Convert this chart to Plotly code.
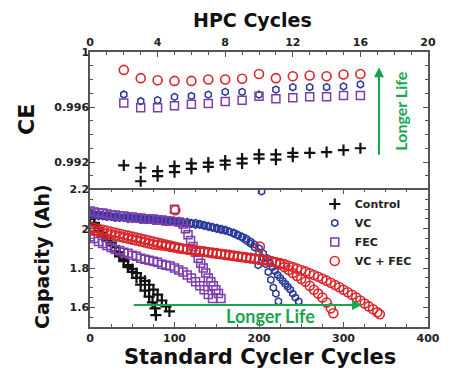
import plotly.graph_objects as go

# ---------------- CE panel (HPC cycles) ----------------
hpc = [2, 3, 4, 5, 6, 7, 8, 9, 10, 11, 12, 13, 14, 15, 16]
ce_vcfec = [0.9987, 0.9981, 0.99795, 0.9979, 0.9979, 0.998, 0.998, 0.99805, 0.9984, 0.9981, 0.99824, 0.99829, 0.99824, 0.99836, 0.9984]
ce_vc = [0.99691, 0.99642, 0.9965, 0.99674, 0.9968, 0.9969, 0.9971, 0.9971, 0.9969, 0.99727, 0.99744, 0.99744, 0.99744, 0.9975, 0.99764]
ce_fec = [0.9963, 0.99594, 0.99594, 0.9961, 0.9962, 0.99626, 0.9964, 0.9965, 0.99679, 0.9966, 0.99667, 0.99674, 0.99674, 0.99684, 0.99684]
ce_ctl1 = [0.99175, 0.99158, 0.99134, 0.9917, 0.9919, 0.99195, 0.9921, 0.99224, 0.99255, 0.99255, 0.99267, 0.99267, 0.99272, 0.99286, 0.993]
hpc_ctl2 = [3, 4, 5, 6, 7, 8, 9, 10, 11, 12]
ce_ctl2 = [0.9906, 0.99097, 0.99126, 0.9915, 0.99165, 0.9918, 0.9919, 0.99224, 0.99218, 0.99238]

# ---------------- Capacity panel (standard cycler cycles) ----------------
ctl1_x = [0, 5, 10, 15, 20, 25, 30, 35, 40, 45, 50, 55, 60, 65, 70, 74, 77, 78]
ctl1_y = [2.05, 2.02, 1.99, 1.965, 1.94, 1.915, 1.885, 1.86, 1.835, 1.805, 1.78, 1.75, 1.715, 1.685, 1.655, 1.625, 1.595, 1.56]
ctl2_x = [0, 5, 10, 15, 20, 25, 30, 35, 40, 45, 50, 55, 60, 65, 70, 75, 80, 85, 90, 94]
ctl2_y = [2.05, 2.03, 2.005, 1.98, 1.955, 1.93, 1.905, 1.88, 1.845, 1.815, 1.795, 1.775, 1.75, 1.735, 1.715, 1.69, 1.665, 1.635, 1.605, 1.58]

vc1_x = [0, 5, 10, 15, 20, 25, 30, 35, 40, 45, 50, 55, 60, 65, 70, 75, 80, 85, 90, 95,
         100, 105, 110, 115, 120, 125, 130, 135, 140, 145, 150, 155, 160, 165, 170, 175, 180, 185, 190, 195,
         200, 203, 205, 208, 211, 214, 217, 220, 223]
vc1_y = [2.08, 2.075, 2.075, 2.07, 2.07, 2.065, 2.065, 2.06, 2.06, 2.06, 2.055, 2.055, 2.055, 2.05, 2.05, 2.05, 2.045, 2.045, 2.045, 2.04,
         2.04, 2.04, 2.035, 2.035, 2.03, 2.03, 2.025, 2.02, 2.015, 2.01, 2.005, 2.0, 1.995, 1.985, 1.975, 1.965, 1.955, 1.94, 1.925, 1.905,
         1.88, 2.19, 1.85, 1.82, 1.78, 1.74, 1.70, 1.67, 1.63]
vc2_x = [0, 5, 10, 15, 20, 25, 30, 35, 40, 45, 50, 55, 60, 65, 70, 75, 80, 85, 90, 95,
         100, 105, 110, 115, 120, 125, 130, 135, 140, 145, 150, 155, 160, 165, 170, 175, 180, 185, 190, 195,
         199, 200, 205, 210, 213, 216, 219, 222, 225, 228, 231, 234, 237, 240, 243, 247]
vc2_y = [2.07, 2.07, 2.065, 2.065, 2.06, 2.06, 2.055, 2.055, 2.055, 2.05, 2.05, 2.05, 2.045, 2.045, 2.045, 2.04, 2.04, 2.04, 2.035, 2.035,
         2.035, 2.03, 2.03, 2.025, 2.025, 2.02, 2.02, 2.015, 2.01, 2.005, 2.0, 1.995, 1.99, 1.985, 1.98, 1.97, 1.96, 1.95, 1.935, 1.92,
         1.815, 1.90, 1.875, 1.85, 1.825, 1.805, 1.785, 1.765, 1.75, 1.735, 1.72, 1.705, 1.69, 1.67, 1.65, 1.63]

fec1_x = [0, 5, 10, 15, 20, 25, 30, 35, 40, 45, 50, 55, 60, 65, 70, 75, 80, 85, 90, 95,
          100, 105, 110, 113, 116, 119, 122, 125, 128, 131, 134, 137, 140, 143, 146, 149, 152, 155]
fec1_y = [2.09, 2.085, 2.08, 2.08, 2.075, 2.07, 2.07, 2.065, 2.065, 2.06, 2.06, 2.055, 2.055, 2.05, 2.05, 2.05, 2.045, 2.045, 2.04, 2.04,
          2.10, 2.035, 2.025, 2.0, 1.97, 1.94, 1.91, 1.88, 1.85, 1.825, 1.80, 1.775, 1.75, 1.73, 1.71, 1.69, 1.67, 1.645]
fec2_x = [0, 5, 10, 15, 20, 25, 30, 35, 40, 45, 50, 55, 60, 65, 70, 75, 80, 85, 90, 95,
          100, 105, 110, 115, 120, 125, 130, 135, 140, 145]
fec2_y = [1.96, 1.95, 1.935, 1.925, 1.915, 1.905, 1.895, 1.89, 1.88, 1.875, 1.865, 1.86, 1.85, 1.845, 1.84, 1.835, 1.83, 1.82, 1.815, 1.81,
          1.80, 1.79, 1.78, 1.765, 1.75, 1.73, 1.71, 1.69, 1.665, 1.645]

red1_x = [0, 5, 10, 15, 20, 25, 30, 35, 40, 45, 50, 55, 60, 65, 70, 75, 80, 85, 90, 95,
          100, 105, 110, 115, 120, 125, 130, 135, 140, 145, 150, 155, 160, 165, 170, 175, 180, 185, 190, 195,
          200, 205, 210, 215, 220, 225, 230, 235, 240, 245, 250, 255, 260, 265, 270, 275, 280, 285, 288]
red1_y = [2.01, 2.005, 2.0, 1.995, 1.99, 1.985, 1.98, 1.975, 1.97, 1.965, 1.96, 1.955, 1.95, 1.945, 1.94, 1.935, 1.93, 1.925, 1.92, 1.915,
          1.91, 1.905, 1.90, 1.897, 1.894, 1.891, 1.888, 1.885, 1.882, 1.879, 1.876, 1.873, 1.87, 1.867, 1.864, 1.861, 1.858, 1.855, 1.852, 1.849,
          1.846, 1.843, 1.84, 1.835, 1.83, 1.82, 1.805, 1.79, 1.775, 1.76, 1.745, 1.73, 1.71, 1.69, 1.67, 1.65, 1.625, 1.595, 1.57]
red2_x = [0, 5, 10, 15, 20, 25, 30, 35, 40, 45, 50, 55, 60, 65, 70, 75, 80, 85, 90, 95,
          100, 101, 105, 110, 115, 120, 125, 130, 135, 140, 145, 150, 155, 160, 165, 170, 175, 180, 185, 190, 195,
          200, 201, 205, 210, 215, 220, 225, 230, 235, 240, 245, 250, 255, 260, 265, 270, 275, 280, 285, 290, 295,
          300, 305, 310, 315, 320, 325, 330, 335, 340, 343]
red2_y = [1.995, 1.99, 1.985, 1.98, 1.975, 1.97, 1.965, 1.96, 1.955, 1.95, 1.945, 1.94, 1.935, 1.93, 1.925, 1.92, 1.918, 1.915, 1.912, 1.908,
          1.905, 2.094, 1.90, 1.897, 1.894, 1.891, 1.888, 1.885, 1.882, 1.879, 1.876, 1.873, 1.87, 1.867, 1.864, 1.861, 1.858, 1.855, 1.852, 1.849, 1.846,
          1.843, 1.91, 1.84, 1.837, 1.834, 1.83, 1.825, 1.82, 1.812, 1.805, 1.797, 1.79, 1.782, 1.774, 1.765, 1.756, 1.746, 1.736, 1.725, 1.714, 1.702,
          1.69, 1.677, 1.664, 1.65, 1.635, 1.62, 1.605, 1.59, 1.575, 1.565]

series_names = ["Control", "VC", "FEC", "VC + FEC"]
BLACK = "#111111"
BLUE = "#2b3a9a"
PURPLE = "#7d3cae"
RED = "#d8262a"
GREEN = "#1aa64e"

sym = {"Control": ("cross-thin-open", 8, 2.2, BLACK),
       "VC": ("hexagon-open", 7, 1.5, BLUE),
       "FEC": ("square-open", 8, 1.5, PURPLE),
       "VC + FEC": ("circle-open", 9, 1.6, RED)}


def mk(name):
    s, size, lw, c = sym[name]
    return dict(symbol=s, size=size, color=c, line=dict(color=c, width=lw))


fig = go.Figure()

# capacity panel (legend entries from here)
cap_data = [("Control", [(ctl1_x, ctl1_y), (ctl2_x, ctl2_y)]),
            ("VC", [(vc1_x, vc1_y), (vc2_x, vc2_y)]),
            ("FEC", [(fec1_x, fec1_y), (fec2_x, fec2_y)]),
            ("VC + FEC", [(red1_x, red1_y), (red2_x, red2_y)])]
for name, cells in cap_data:
    for i, (xs, ys) in enumerate(cells):
        fig.add_trace(go.Scatter(x=xs, y=ys, mode="markers", name=name, legendgroup=name,
                                 showlegend=(i == 0), marker=mk(name), xaxis="x", yaxis="y"))

# CE panel
ce_data = [("Control", [(hpc, ce_ctl1), (hpc_ctl2, ce_ctl2)]),
           ("VC", [(hpc, ce_vc)]),
           ("FEC", [(hpc, ce_fec)]),
           ("VC + FEC", [(hpc, ce_vcfec)])]
for name, cells in ce_data:
    for xs, ys in cells:
        fig.add_trace(go.Scatter(x=xs, y=ys, mode="markers", name=name, legendgroup=name,
                                 showlegend=False, marker=mk(name), xaxis="x2", yaxis="y2"))

AX = "#555555"
tickfont = dict(family="DejaVu Sans", size=11, color="#222222", weight="bold")
common = dict(showline=True, linecolor=AX, linewidth=1.5, ticks="inside", tickcolor=AX,
              ticklen=5, tickwidth=1.2, showgrid=False, zeroline=False, tickfont=tickfont)

# page body has an 8px default margin, so the figure is sized to fit inside the window
fig.update_layout(
    width=450, height=368,
    margin=dict(l=82, r=30, t=44, b=49),
    paper_bgcolor="white", plot_bgcolor="white",
    showlegend=True,
    legend=dict(x=0.665, y=0.5, xanchor="left", yanchor="top", bgcolor="rgba(0,0,0,0)",
                font=dict(family="DejaVu Sans", size=11, color="#222222", weight="bold"),
                tracegroupgap=0, itemwidth=30),
    xaxis=dict(domain=[0, 1], anchor="y", range=[0, 400], tickvals=[0, 100, 200, 300, 400],
               mirror="ticks", minor=dict(ticks="inside", ticklen=3, tickcolor=AX, dtick=25, tick0=0), **common),
    yaxis=dict(domain=[0, 0.5], anchor="x", range=[1.5, 2.2], tickvals=[1.6, 1.8, 2.0, 2.2],
               ticktext=["1.6", "1.8", "2", "2.2"], mirror="ticks", ticklabelstandoff=-3,
               minor=dict(ticks="inside", ticklen=3, tickcolor=AX, dtick=0.05, tick0=1.5), **common),
    xaxis2=dict(domain=[0, 1], anchor="y2", side="top", range=[0, 20], tickvals=[0, 4, 8, 12, 16, 20],
                mirror=False, minor=dict(ticks="inside", ticklen=3, tickcolor=AX, dtick=1, tick0=0), **common),
    yaxis2=dict(domain=[0.5, 1], anchor="x2", range=[0.990, 1.0], tickvals=[0.992, 0.996, 1.0],
                ticktext=["0.992", "0.996", "1"], mirror="ticks", ticklabelstandoff=-3,
                minor=dict(ticks="inside", ticklen=3, tickcolor=AX, dtick=0.001, tick0=0.99), **common),
)

title_font = dict(family="DejaVu Sans", color="#111111", weight="bold")
fig.add_annotation(text="HPC Cycles", xref="paper", yref="paper", x=0.482, y=1.118, showarrow=False,
                   xanchor="center", yanchor="middle", font=dict(size=19, **title_font))
fig.add_annotation(text="Standard Cycler Cycles", xref="paper", yref="paper", x=0.503, y=-0.11, showarrow=False,
                   xanchor="center", yanchor="middle", font=dict(size=21, **title_font))
fig.add_annotation(text="CE", xref="paper", yref="paper", x=-0.19, y=0.756, showarrow=False, textangle=-90,
                   xanchor="center", yanchor="middle", font=dict(size=22, **title_font))
fig.add_annotation(text="Capacity (Ah)", xref="paper", yref="paper", x=-0.142, y=0.255, showarrow=False,
                   textangle=-90, xanchor="center", yanchor="middle", font=dict(size=19, **title_font))

# green arrows and labels
fig.add_annotation(x=322, y=1.612, ax=50, ay=1.612, xref="x", yref="y", axref="x", ayref="y",
                   text="", showarrow=True, arrowhead=2, arrowsize=1, arrowwidth=2, arrowcolor=GREEN)
fig.add_annotation(text="Longer Life", x=214, y=1.555, xref="x", yref="y", showarrow=False,
                   font=dict(family="Lato", size=18, color=GREEN, weight="bold"))
fig.add_annotation(x=17.1, y=0.9989, ax=17.1, ay=0.99241, xref="x2", yref="y2", axref="x2", ayref="y2",
                   text="", showarrow=True, arrowhead=2, arrowsize=1, arrowwidth=2, arrowcolor=GREEN)
fig.add_annotation(text="Longer Life", x=18.35, y=0.99567, xref="x2", yref="y2", showarrow=False, textangle=-90,
                   font=dict(family="Lato", size=16, color=GREEN, weight="bold"))

fig.write_html("out.html")
